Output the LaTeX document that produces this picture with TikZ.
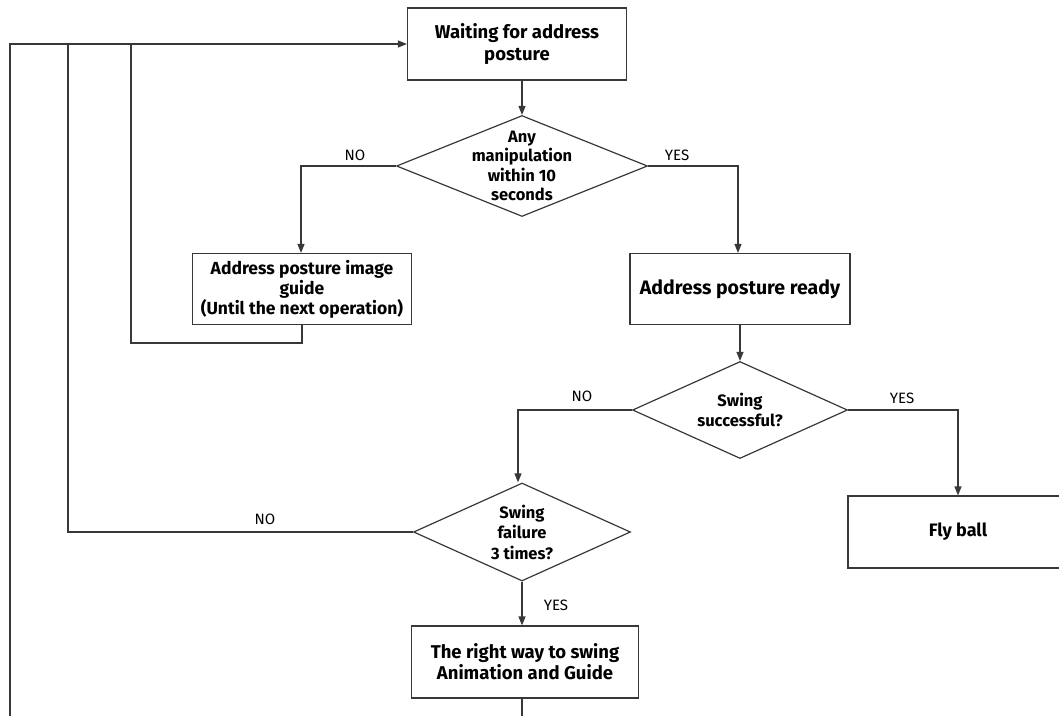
\documentclass[tikz,border=0pt]{standalone}
\usepackage{fontspec}
\setmainfont{Fira Sans}
\usetikzlibrary{shapes.geometric,arrows.meta}
\begin{document}
\begin{tikzpicture}[x=1pt,y=-1pt,
  ln/.style={draw=black!78,line width=1.2pt},
  arr/.style={ln,-{Triangle[length=9pt,width=7pt]}},
  boxnode/.style={draw=black!78,line width=1.2pt,rectangle,align=center,font=\bfseries\fontsize{18.5}{22}\selectfont,inner sep=2pt},
  dia/.style={draw=black!78,line width=1.2pt,diamond,inner sep=0pt},
  diatext/.style={align=center,inner sep=0pt,font=\bfseries\fontsize{16.5}{19.5}\selectfont},
  lbl/.style={font=\fontsize{15}{17}\selectfont,inner sep=0pt}]
\useasboundingbox (0,0) rectangle (1059,715);
\clip (0,0) rectangle (1059,715);
% nodes
\node[boxnode,minimum width=219pt,minimum height=72pt] (b1) at (517,44) {Waiting for address\\posture};
\node[dia,minimum width=251pt,minimum height=101pt] (d1) at (522,166) {};
\node[diatext] (t1) at (d1.center) {Any\\manipulation\\within 10\\seconds};
\node[boxnode,minimum width=219pt,minimum height=71pt,font=\bfseries\fontsize{17.5}{20}\selectfont] (b2) at (302,289) {Address posture image\\guide\\(Until the next operation)};
\node[boxnode,minimum width=220pt,minimum height=71pt,font=\bfseries\fontsize{19.5}{22}\selectfont] (b3) at (740,289) {Address posture ready};
\node[dia,minimum width=215pt,minimum height=97pt] (d2) at (740,410) {};
\node[diatext] (t2) at (d2.center) {Swing\\successful?};
\node[boxnode,minimum width=220pt,minimum height=72pt,font=\bfseries\fontsize{18}{22}\selectfont] (b5) at (958,532) {Fly ball};
\node[dia,minimum width=217pt,minimum height=98pt] (d3) at (522,532) {};
\node[diatext,font=\bfseries\fontsize{16.5}{20.5}\selectfont] (t3) at (d3.center) {Swing\\failure\\3 times?};
\node[boxnode,minimum width=227pt,minimum height=72pt,font=\bfseries\fontsize{18.5}{21}\selectfont] (b4) at (525,662) {The right way to swing\\Animation and Guide};
% coordinates
\coordinate (topL) at (10,44);
\coordinate (topM) at (68,44);
\coordinate (topR) at (131,44);
\coordinate (botL) at (10,720);
\coordinate (c1) at (301,166);
\coordinate (c2) at (738,166);
\coordinate (c3) at (302,343);
\coordinate (c4) at (131,343);
\coordinate (c5) at (958,410);
\coordinate (c6) at (518,410);
\coordinate (c7) at (68,532);
\coordinate (c8) at (522,720);
% connectors
\draw[arr] (botL) -- (topL) -- (b1.west);
\draw[arr] (b1.south -| d1.north) -- (d1.north);
\draw[arr] (d1.west) -- (c1) -- (c1 |- b2.north);
\draw[arr] (d1.east) -- (c2) -- (c2 |- b3.north);
\draw[ln] (b2.south) -- (c3) -- (c4) -- (topR);
\draw[arr] (b3.south) -- (d2.north);
\draw[arr] (d2.east) -- (c5) -- (c5 |- b5.north);
\draw[arr] (d2.west) -- (c6) -- (c6 |- d3.north);
\draw[ln] (d3.west) -- (c7) -- (topM);
\draw[arr] (d3.south) -- (d3.south |- b4.north);
\draw[ln] (b4.south -| d3.south) -- (c8);
% labels
\node[lbl] (l1) at (355,155) {NO};
\node[lbl] (l2) at (677,155) {YES};
\node[lbl] (l3) at (582,396) {NO};
\node[lbl] (l4) at (902,398) {YES};
\node[lbl] (l5) at (265,519) {NO};
\node[lbl] (l6) at (556,605) {YES};
\end{tikzpicture}
\end{document}
